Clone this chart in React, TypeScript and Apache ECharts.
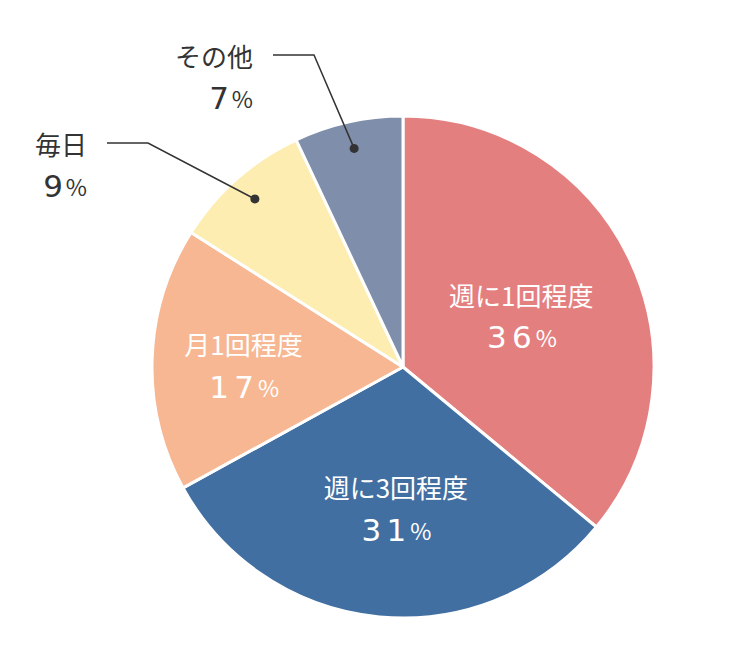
import React, { useEffect, useRef } from "react";
import * as echarts from "echarts";

const categories = ["週に1回程度", "週に3回程度", "月1回程度", "毎日", "その他"];
const values = [36, 31, 17, 9, 7];
const sliceColors = ["#E47F80", "#416FA2", "#F7B792", "#FDEDB1", "#7F8EAA"];

const CX = 403;
const CY = 367;
const R = 251;
const FONT = "'Noto Sans CJK JP', 'Noto Sans', sans-serif";
const NUMFONT = "'DejaVu Sans', 'Noto Sans', sans-serif";

// layout helpers (positions only)
const insideShift: Record<number, [number, number]> = {
  0: [2, 10],
  1: [5, 20],
  2: [-31, 9],
};
const outsideLayout: Record<number, { elbowX: number; lineY: number; endX: number }> = {
  3: { elbowX: 148, lineY: 143, endX: 107 },
  4: { elbowX: 314, lineY: 55, endX: 273 },
};
const isOutside = (i: number) => i === 3 || i === 4;

function midPoint(i: number, r: number): number[] {
  const total = values.reduce((a, b) => a + b, 0);
  let cum = 0;
  for (let k = 0; k < i; k++) cum += values[k];
  const theta = ((cum + values[i] / 2) / total) * Math.PI * 2;
  return [CX + r * Math.sin(theta), CY - r * Math.cos(theta)];
}

export default function App() {
  const ref = useRef<HTMLDivElement>(null);
  useEffect(() => {
    if (!ref.current) return;
    const chart = echarts.init(ref.current, undefined, { renderer: "svg" });
    const mainData = categories.map((name, i) => ({
      name,
      value: values[i],
      itemStyle: { color: sliceColors[i] },
      label: isOutside(i)
        ? { position: "outside", color: "#333" }
        : { position: "inside", color: "#fff" },
      labelLine: { show: false },
    }));

    const leaders: any[] = [];
    categories.forEach((_, i) => {
      if (!isOutside(i)) return;
      const o = outsideLayout[i];
      const dot = midPoint(i, 224);
      leaders.push({
        type: "polyline",
        silent: true,
        shape: { points: [[o.endX, o.lineY], [o.elbowX, o.lineY], dot] },
        style: { stroke: "#333", lineWidth: 1.5, fill: null },
        z: 10,
      });
      leaders.push({
        type: "circle",
        silent: true,
        shape: { cx: dot[0], cy: dot[1], r: 4.5 },
        style: { fill: "#333" },
        z: 11,
      });
    });

    chart.setOption({
      animation: false,
      textStyle: { fontFamily: FONT },
      graphic: leaders,
      series: [
        {
          type: "pie",
          center: [CX, CY],
          radius: [0, R],
          startAngle: 90,
          clockwise: true,
          silent: true,
          itemStyle: { borderColor: "#fff", borderWidth: 3 },
          label: {
            show: true,
            fontFamily: FONT,
            formatter: (p: any) => {
              const sfx = isOutside(p.dataIndex) ? "r" : "";
              return (
                `{n|${p.name}}\n` +
                String(p.value)
                  .split("")
                  .map((d) => `{v${sfx}|${d}}`)
                  .join("") +
                `{u${sfx}|%}`
              );
            },
            rich: {
              n: { fontSize: 26, lineHeight: 30, fontFamily: FONT, fontWeight: 400 },
              v: { fontSize: 31, lineHeight: 56, fontFamily: NUMFONT, width: 25, align: "center" },
              u: { fontSize: 23, lineHeight: 56, fontFamily: FONT, width: 24, align: "center" },
              vr: { fontSize: 31, lineHeight: 56, fontFamily: NUMFONT, width: 25, align: "right" },
              ur: { fontSize: 23, lineHeight: 56, fontFamily: FONT, width: 24, align: "right" },
            },
          },
          labelLine: { show: false },
          labelLayout: (params: any) => {
            const i = params.dataIndex;
            if (isOutside(i)) {
              const o = outsideLayout[i];
              return {
                x: o.endX - 20,
                y: o.lineY - 15,
                align: "right",
                verticalAlign: "top",
              };
            }
            const s = insideShift[i] || [0, 0];
            return { dx: s[0], dy: s[1] };
          },
          data: mainData,
        },
      ],
    });
    return () => chart.dispose();
  }, []);
  return (
    <div
      ref={ref}
      style={{ position: "fixed", left: 0, top: 0, width: 740, height: 656, background: "#fff" }}
    />
  );
}
